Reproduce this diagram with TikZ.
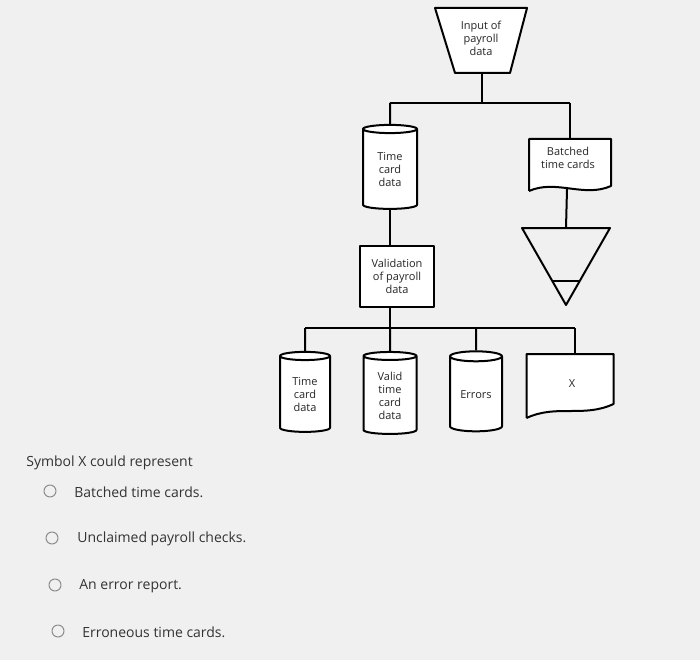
\documentclass[tikz,border=0pt]{standalone}
\usepackage{fontspec}
\setmainfont{Open Sans}
\usetikzlibrary{shapes.geometric,calc}
\begin{document}
\begin{tikzpicture}[x=1pt,y=-1pt,line width=2pt,line join=round,
  lbl/.style={font=\fontsize{11}{13}\selectfont,align=center,text=black!85},
  cyl/.style={cylinder,shape border rotate=90,draw,aspect=0.3,lbl,fill=white,inner sep=1pt},
  docbox/.style={lbl,minimum width=80,minimum height=50,inner sep=0},
  q/.style={font=\fontsize{14}{16}\selectfont,anchor=west,text=black!80},
  opt/.style={circle,draw=black!45,line width=1pt,minimum size=12pt,inner sep=0}]
\fill[gray!12] (0,0) rectangle (700,660);
\useasboundingbox (0,0) rectangle (700,660);
% manual input
\coordinate (mi1) at (435,8); \coordinate (mi2) at (527,8);
\coordinate (mi3) at (510,73); \coordinate (mi4) at (455,73);
\draw[fill=white] (mi1)--(mi2)--(mi3)--(mi4)--cycle;
\node[lbl] (inp) at (481,38) {Input of\\payroll\\data};
\coordinate (inb) at (482,73);
\coordinate (j1) at (482,103);
\coordinate (j1l) at (390,103);
\coordinate (j1r) at (570,103);
% top cylinder
\node[cyl,minimum width=54,minimum height=84] (tcd1) at (390,170) {Time\\card\\data};
% batched doc
\node[docbox] (btc) at (570,165) {};
\draw[fill=white] (btc.south west) -- (btc.north west) -- (btc.north east) -- ($(btc.south east)+(0,-5)$)
  .. controls +(-27,12) and +(27,-12) .. (btc.south west);
\node[lbl] (btct) at (568,158) {Batched\\time cards};
% triangle
\coordinate (t1) at (522,228); \coordinate (t2) at (610,228); \coordinate (t3) at (566,305);
\draw (t1)--(t2)--(t3)--cycle;
\draw (552,281)--(580,281);
\coordinate (ttop) at (566,228);
% process
\node[draw,lbl,minimum width=74,minimum height=61,fill=white] (val) at (397,276) {Validation\\of payroll\\data};
\coordinate (j2) at (390,328);
\coordinate (j2a) at (305,328);
\coordinate (j2c) at (476,328); \coordinate (j2d) at (575,328);
% bottom row
\node[cyl,minimum width=50,minimum height=80] (tcd2) at (305,395) {Time\\card\\data};
\node[cyl,minimum width=53,minimum height=82] (vtc) at (390,396) {Valid\\time\\card\\data};
\node[cyl,minimum width=52,minimum height=80] (err) at (476,395) {Errors};
\node[docbox,minimum width=85,minimum height=62] (x) at (570,386) {};
\draw[fill=white] (x.south west) -- (x.north west) -- (x.north east) -- ($(x.south east)+(0,-14)$)
  .. controls +(-30,14) and +(30,-14) .. (x.south west);
\node[lbl] (xt) at (572,384) {X};
% connectors
\draw (inb)--(j1);
\draw (j1l)--(j1r);
\draw (j1l)--(tcd1.north);
\draw (j1r)--(btc.north);
\draw ($(btc.south)+(-3,-2)$)--(ttop);
\draw (tcd1.south)--(tcd1.south |- val.north);
\draw (j2 |- val.south)--(j2);
\draw (j2a)--(j2d);
\draw (j2a)--(tcd2.north);
\draw (j2)--(vtc.north);
\draw (j2c)--(err.north);
\draw (j2d)--(x.north -| j2d);
% question
\node[q] (qq) at (22,463) {Symbol X could represent};
\node[opt] (o1) at (50,491) {}; \node[q] (a1) at (70,492) {Batched time cards.};
\node[opt] (o2) at (52,538) {}; \node[q] (a2) at (73,539) {Unclaimed payroll checks.};
\node[opt] (o3) at (55,585) {}; \node[q] (a3) at (75,586) {An error report.};
\node[opt] (o4) at (58,631) {}; \node[q] (a4) at (78,632) {Erroneous time cards.};
\end{tikzpicture}
\end{document}
